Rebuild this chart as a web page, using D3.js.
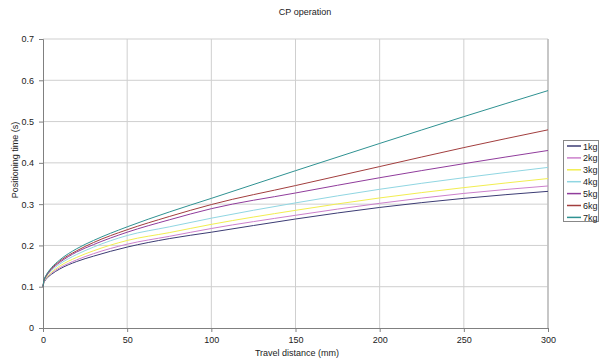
<!DOCTYPE html>
<html>
<head>
    <style>
        body { margin: 0; background: #fff; }
        text { font-family: "Liberation Sans", Arial, sans-serif; fill: #222; }
        .tick text { font-size: 9px; }
        .title { font-size: 9px; }
        .axis-title { font-size: 9px; }
        .legend text { font-size: 9px; }
    </style>
    <script src="https://d3js.org/d3.v7.min.js"></script>
</head>
<body>
    <svg width="600" height="359"></svg>
    <script>

    // travel distance (mm)
    let distances = [0, 0.5, 1, 2, 5, 10, 20, 30, 50, 75, 100, 150, 200, 250, 300];

    // positioning time (s)
    let kg1 = [0.1, 0.1096, 0.1135, 0.119, 0.130, 0.143, 0.161, 0.174, 0.196, 0.2165, 0.232, 0.264, 0.292, 0.314, 0.331];
    let kg2 = [0.1, 0.110, 0.115, 0.121, 0.133, 0.146, 0.165, 0.180, 0.203, 0.222, 0.241, 0.273, 0.302, 0.326, 0.344];
    let kg3 = [0.1, 0.111, 0.116, 0.122, 0.135, 0.150, 0.171, 0.187, 0.212, 0.231, 0.251, 0.285, 0.315, 0.340, 0.362];
    let kg4 = [0.1, 0.112, 0.117, 0.125, 0.139, 0.155, 0.178, 0.196, 0.224, 0.245, 0.266, 0.303, 0.336, 0.364, 0.389];
    let kg5 = [0.1, 0.113, 0.119, 0.126, 0.142, 0.159, 0.184, 0.202, 0.232, 0.262, 0.289, 0.327, 0.364, 0.398, 0.430];
    let kg6 = [0.1, 0.114, 0.120, 0.128, 0.144, 0.162, 0.187, 0.207, 0.238, 0.270, 0.299, 0.345, 0.391, 0.437, 0.480];
    let kg7 = [0.1, 0.114, 0.121, 0.129, 0.146, 0.165, 0.192, 0.212, 0.245, 0.281, 0.314, 0.381, 0.447, 0.512, 0.575];

    let seriesNames = ["1kg", "2kg", "3kg", "4kg", "5kg", "6kg", "7kg"];
    let seriesValues = [kg1, kg2, kg3, kg4, kg5, kg6, kg7];
    let colors = ["#3c3c74", "#cc80cc", "#f2ee50", "#90d6e2", "#903c9c", "#a23e3e", "#2f9292"];

    let xTicks = [0, 50, 100, 150, 200, 250, 300];
    let yTicks = [0, 0.1, 0.2, 0.3, 0.4, 0.5, 0.6, 0.7];

    let svg = d3.select("svg");
    let plotLeft = 43, plotRight = 548, plotTop = 39, plotBottom = 328;

    let x = d3.scaleLinear().domain([0, 300]).range([plotLeft, plotRight]);
    let y = d3.scaleLinear().domain([0, 0.7]).range([plotBottom, plotTop]);

    // gridlines
    svg.append("g")
        .selectAll("line")
        .data(xTicks.slice(1))
        .join("line")
        .attr("x1", d => x(d)).attr("x2", d => x(d))
        .attr("y1", plotTop).attr("y2", plotBottom)
        .attr("stroke", "#cfcfcf").attr("stroke-width", 1);

    svg.append("g")
        .selectAll("line")
        .data(yTicks.slice(1))
        .join("line")
        .attr("x1", plotLeft).attr("x2", plotRight)
        .attr("y1", d => y(d)).attr("y2", d => y(d))
        .attr("stroke", "#cfcfcf").attr("stroke-width", 1);

    // right border
    svg.append("line")
        .attr("x1", plotRight).attr("x2", plotRight)
        .attr("y1", plotTop).attr("y2", plotBottom)
        .attr("stroke", "#bcbcbc").attr("stroke-width", 1.5);

    // axes
    let xAxis = svg.append("g")
        .attr("transform", "translate(0," + plotBottom + ")")
        .call(d3.axisBottom(x).tickValues(xTicks).tickSize(4).tickPadding(5).tickFormat(d3.format("d")));
    let yAxis = svg.append("g")
        .attr("transform", "translate(" + plotLeft + ",0)")
        .call(d3.axisLeft(y).tickValues(yTicks).tickSize(4).tickPadding(5).tickFormat(d => d === 0 ? "0" : d3.format(".1f")(d)));

    [xAxis, yAxis].forEach(a => {
        a.select(".domain").attr("stroke", "#808080");
        a.selectAll(".tick line").attr("stroke", "#808080");
        a.selectAll(".tick text").attr("fill", "#222");
    });

    // lines
    let line = d3.line()
        .x((d, i) => x(distances[i]))
        .y(d => y(d))
        .curve(d3.curveMonotoneX);

    svg.append("g")
        .selectAll("path")
        .data(seriesValues)
        .join("path")
        .attr("d", line)
        .attr("fill", "none")
        .attr("stroke", (d, i) => colors[i])
        .attr("stroke-width", 1);

    // titles
    svg.append("text")
        .attr("class", "title")
        .attr("x", 305).attr("y", 15)
        .attr("text-anchor", "middle")
        .text("CP operation");

    svg.append("text")
        .attr("class", "axis-title")
        .attr("x", 297).attr("y", 356)
        .attr("text-anchor", "middle")
        .text("Travel distance (mm)");

    svg.append("text")
        .attr("class", "axis-title")
        .attr("transform", "translate(18,160) rotate(-90)")
        .attr("text-anchor", "middle")
        .text("Positioning time (s)");

    // legend
    let legend = svg.append("g").attr("class", "legend");
    legend.append("rect")
        .attr("x", 563.5).attr("y", 140.5)
        .attr("width", 35).attr("height", 81)
        .attr("fill", "#fff").attr("stroke", "#888");

    let items = legend.selectAll("g.item")
        .data(seriesNames)
        .join("g")
        .attr("class", "item")
        .attr("transform", (d, i) => "translate(0," + (146 + i * 11.9) + ")");
    items.append("line")
        .attr("x1", 567).attr("x2", 581)
        .attr("stroke", (d, i) => colors[i])
        .attr("stroke-width", 1.5);
    items.append("text")
        .attr("x", 583).attr("y", 3.5)
        .text(d => d);

     </script>
</body>
</html>
